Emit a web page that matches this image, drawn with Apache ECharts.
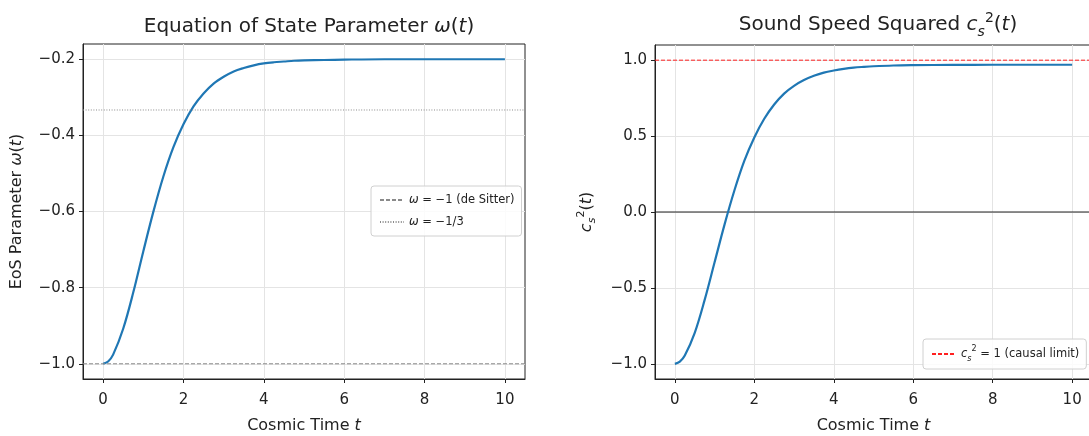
<!DOCTYPE html>
<html><head><meta charset="utf-8">
<script src="https://cdn.jsdelivr.net/npm/echarts@6/dist/echarts.min.js"></script>
<style>html,body{margin:0;padding:0;background:#fff}#c{width:1089px;height:436px}</style>
</head><body><div id="c"></div>
<script>
// ---- data ----
const tValues   = [0, 0.125, 0.25, 0.5, 0.75, 1.0, 1.25, 1.5, 1.75, 2.0, 2.25, 2.5, 2.75, 3.0, 3.25, 3.5, 3.75, 4.0, 4.25, 4.5, 4.75, 5.0, 5.5, 6, 7, 8, 9, 10];
const wValues   = [-1.0, -0.994, -0.976, -0.908, -0.813, -0.705, -0.601, -0.508, -0.431, -0.371, -0.324, -0.290, -0.264, -0.246, -0.232, -0.223, -0.216, -0.211, -0.208, -0.206, -0.204, -0.203, -0.202, -0.201, -0.200, -0.200, -0.200, -0.200];
const cs2Values = [-1.0, -0.986, -0.946, -0.796, -0.579, -0.331, -0.083, 0.143, 0.338, 0.491, 0.614, 0.708, 0.780, 0.831, 0.869, 0.897, 0.918, 0.932, 0.943, 0.951, 0.956, 0.960, 0.965, 0.967, 0.969, 0.970, 0.970, 0.970];
const xTicks = [0, 2, 4, 6, 8, 10];
const wTicks = [-1.0, -0.8, -0.6, -0.4, -0.2];
const cTicks = [-1.0, -0.5, 0.0, 0.5, 1.0];
const xLimits = [-0.5, 10.5];
const wLimits = [-1.04, -0.16];
const cLimits = [-1.1, 1.1];
const deSitterW = -1;
const radiationW = -1 / 3;
const causalLimit = 1;
const zeroLevel = 0;

// ---- chart ----
const FONT = 'DejaVu Sans';
const INK = '#222';
const pairs = (xs, ys) => xs.map((x, i) => [x, ys[i]]);
const hline = (v) => [[xLimits[0], v], [xLimits[1], v]];
const fmt1 = (v) => Number(v).toFixed(1).replace('-', '\u2212');

function scriptRich(size, lh) {
  return {
    i: { fontStyle: 'italic', fontFamily: FONT, fontSize: size, color: INK, lineHeight: lh },
    sub: { fontStyle: 'italic', fontFamily: FONT, fontSize: Math.round(size * 0.68), color: INK, verticalAlign: 'bottom', lineHeight: lh },
    sup: { fontFamily: FONT, fontSize: Math.round(size * 0.68), color: INK, verticalAlign: 'top', lineHeight: lh },
  };
}

function xAxisDef(gridIndex) {
  return {
    type: 'value', gridIndex, min: xLimits[0], max: xLimits[1],
    name: 'Cosmic Time {i|t}', nameLocation: 'middle', nameGap: 37,
    nameTextStyle: { fontFamily: FONT, fontSize: 16, color: INK, rich: scriptRich(16, 20) },
    axisLine: { show: true, onZero: false, lineStyle: { color: INK, width: 1 } },
    axisTick: { show: true, inside: false, length: 4, customValues: xTicks, lineStyle: { color: INK } },
    axisLabel: { customValues: xTicks, margin: 14, fontFamily: FONT, fontSize: 15, color: INK,
      formatter: (v) => String(v) },
    splitLine: { show: true, lineStyle: { color: '#e4e4e4', width: 1 } },
  };
}

const option = {
  backgroundColor: '#fff',
  animation: false,
  title: [
    { text: 'Equation of State Parameter {i|ω}({i|t})', left: 304, top: 8, textAlign: 'center',
      textStyle: { fontFamily: FONT, fontSize: 20, fontWeight: 'normal', color: INK, lineHeight: 28, rich: scriptRich(20, 28) } },
    { text: 'Sound Speed Squared {i|c}{sub|s}{sup|2}({i|t})', left: 873, top: 6, textAlign: 'center',
      textStyle: { fontFamily: FONT, fontSize: 20, fontWeight: 'normal', color: INK, lineHeight: 28, rich: scriptRich(20, 28) } },
  ],
  grid: [
    { left: 83, top: 44, width: 442, height: 335, outerBoundsMode: 'none', containLabel: false,
      show: true, borderColor: INK, borderWidth: 1, backgroundColor: '#fff' },
    { left: 655, top: 45, width: 437, height: 334, outerBoundsMode: 'none', containLabel: false,
      show: true, borderColor: INK, borderWidth: 1, backgroundColor: '#fff' },
  ],
  xAxis: [xAxisDef(0), xAxisDef(1)],
  yAxis: [
    { type: 'value', gridIndex: 0, min: wLimits[0], max: wLimits[1],
      name: 'EoS Parameter {i|ω}({i|t})', nameLocation: 'middle', nameGap: 56, nameRotate: 90,
      nameTextStyle: { fontFamily: FONT, fontSize: 16, color: INK, lineHeight: 20, rich: scriptRich(16, 20) },
      axisLine: { show: true, onZero: false, lineStyle: { color: INK, width: 1 } },
      axisTick: { show: true, inside: false, length: 4, customValues: wTicks, lineStyle: { color: INK } },
      axisLabel: { customValues: wTicks, margin: 8, fontFamily: FONT, fontSize: 15, color: INK, formatter: fmt1 },
      splitLine: { show: true, lineStyle: { color: '#e4e4e4', width: 1 } } },
    { type: 'value', gridIndex: 1, min: cLimits[0], max: cLimits[1],
      name: '{i|c}{sub|s}{sup|2}({i|t})', nameLocation: 'middle', nameGap: 57, nameRotate: 90,
      nameTextStyle: { fontFamily: FONT, fontSize: 16, color: INK, lineHeight: 22, rich: scriptRich(16, 22) },
      axisLine: { show: true, onZero: false, lineStyle: { color: INK, width: 1 } },
      axisTick: { show: true, inside: false, length: 4, customValues: cTicks, lineStyle: { color: INK } },
      axisLabel: { customValues: cTicks, margin: 8, fontFamily: FONT, fontSize: 15, color: INK, formatter: fmt1 },
      splitLine: { show: true, lineStyle: { color: '#e4e4e4', width: 1 } } },
  ],
  legend: [
    { data: ['deSitter', 'radiation'], orient: 'vertical', left: 371, top: 186,
      itemWidth: 24, itemHeight: 12, itemGap: 6, padding: [6, 7, 6, 8],
      itemStyle: { opacity: 0 },
      backgroundColor: 'rgba(255,255,255,0.85)', borderColor: '#d0d0d0', borderWidth: 1, borderRadius: 3,
      formatter: (n) => n === 'deSitter' ? '{i|ω} = \u22121 (de Sitter)' : '{i|ω} = \u22121/3',
      textStyle: { fontFamily: FONT, fontSize: 11.5, color: INK, lineHeight: 16, rich: scriptRich(11.5, 16) } },
    { data: ['causal'], orient: 'vertical', left: 923, top: 339,
      itemWidth: 24, itemHeight: 12, padding: [6, 7, 6, 8],
      itemStyle: { opacity: 0 },
      backgroundColor: 'rgba(255,255,255,0.85)', borderColor: '#d0d0d0', borderWidth: 1, borderRadius: 3,
      formatter: () => '{i|c}{sub|s}{sup|2} = 1 (causal limit)',
      textStyle: { fontFamily: FONT, fontSize: 11.5, color: INK, lineHeight: 18, rich: scriptRich(11.5, 18) } },
  ],
  series: [
    { name: 'w', type: 'line', xAxisIndex: 0, yAxisIndex: 0, data: pairs(tValues, wValues),
      symbol: 'none', smooth: 0.35, lineStyle: { color: '#1f77b4', width: 2.2 }, z: 3 },
    { name: 'deSitter', type: 'line', xAxisIndex: 0, yAxisIndex: 0, data: hline(deSitterW),
      symbol: 'none', color: '#8a8a8a', lineStyle: { color: '#8a8a8a', width: 1, type: [4, 2] }, z: 4 },
    { name: 'radiation', type: 'line', xAxisIndex: 0, yAxisIndex: 0, data: hline(radiationW),
      symbol: 'none', color: '#8a8a8a', lineStyle: { color: '#8a8a8a', width: 1, type: [1, 1.6] }, z: 4 },
    { name: 'cs2', type: 'line', xAxisIndex: 1, yAxisIndex: 1, data: pairs(tValues, cs2Values),
      symbol: 'none', smooth: 0.35, lineStyle: { color: '#1f77b4', width: 2.2 }, z: 3 },
    { name: 'causal', type: 'line', xAxisIndex: 1, yAxisIndex: 1, data: hline(causalLimit),
      symbol: 'none', color: '#ff2020', lineStyle: { color: '#ff2020', width: 1, type: [4, 2] }, z: 4 },
    { name: 'zero', type: 'line', xAxisIndex: 1, yAxisIndex: 1, data: hline(zeroLevel),
      symbol: 'none', color: '#222', lineStyle: { color: '#222', width: 1.2 }, z: 2 },
  ],
};

const chart = echarts.init(document.getElementById('c'), null, { renderer: 'canvas' });
chart.setOption(option);
</script>
</body></html>
